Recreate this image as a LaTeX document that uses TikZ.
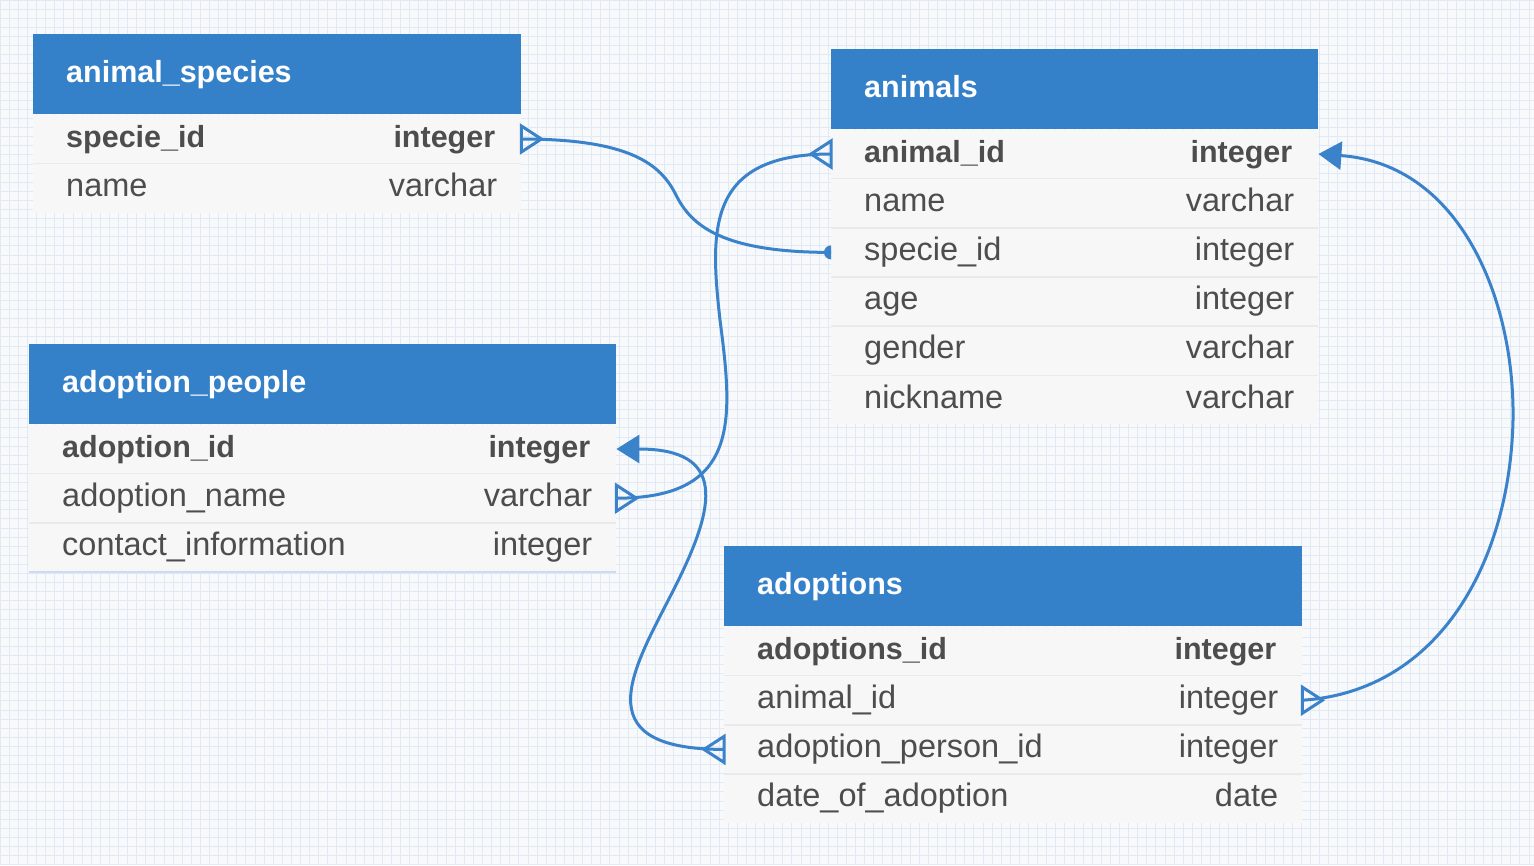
\documentclass[tikz,border=0pt]{standalone}
\usepackage{fontspec}
\setmainfont{Liberation Sans}
\usepackage{tikz}
\usepackage{xcolor}
\usetikzlibrary{positioning, arrows.meta}
\definecolor{headblue}{HTML}{3481CA}
\definecolor{linkblue}{HTML}{3A82C9}
\definecolor{rowgray}{HTML}{F7F7F7}
\definecolor{sepgray}{HTML}{EAEAEA}
\definecolor{txtgray}{HTML}{4D4D4D}
\definecolor{paper}{HTML}{F8F9FB}
\definecolor{gridblue}{HTML}{E2E9F6}
\definecolor{edgeblue}{HTML}{CCDCF0}
\tikzstyle{head}=[rectangle, fill=headblue, minimum height=80pt, inner sep=0, anchor=north west]
\tikzstyle{fieldrow}=[rectangle, fill=rowgray, minimum height=48.8pt, inner sep=0, anchor=north west]
\tikzstyle{title}=[text=white, font=\fontsize{30.5}{34}\selectfont\bfseries, inner sep=0, text height=22pt, text depth=6pt]
\tikzstyle{key}=[text=txtgray, font=\fontsize{30.5}{34}\selectfont\bfseries, inner sep=0, text height=22pt, text depth=6pt]
\tikzstyle{fld}=[text=txtgray, font=\fontsize{32.5}{36}\selectfont, inner sep=0, text height=22pt, text depth=6pt]
\tikzstyle{rowline}=[draw=sepgray, line width=1.5pt]
\tikzstyle{tableend}=[draw=edgeblue, line width=1.5pt]
\tikzstyle{link}=[draw=linkblue, line width=3pt]
\tikzstyle{onetip}=[-{Triangle[length=23pt,width=28pt]}]
% crow's foot on the right / left side of a row
\newcommand{\manyright}[1]{\draw[link] ([yshift=13pt]#1) -- ++(20,13) -- ++(-20,13) -- cycle;}
\newcommand{\manyleft}[1]{\draw[link] ([yshift=13pt]#1) -- ++(-20,13) -- ++(20,13) -- cycle;}

\begin{document}
\begin{tikzpicture}[x=1pt, y=-1pt]
\useasboundingbox (0,0) rectangle (1534,865);
\fill[paper] (0,0) rectangle (1534,865);
\draw[gridblue, line width=0.6pt, step=9.1pt] (0pt,-865pt) grid (1534pt,0pt);

%%%%%%%%%%%%%%%%%%%%%%%%%%% animal_species
\node[head, minimum width=488pt] (spec) at (33,34) {};
\node[title, right=33pt of spec.west] (spect) {animal\_species};
\node[fieldrow, minimum width=488pt] (spec1) at (spec.south west) {};
\node[key, right=33pt of spec1.west] (spec1n) {specie\_id};
\node[key, left=26pt of spec1.east] (spec1t) {integer};
\node[fieldrow, minimum width=488pt] (spec2) at (spec1.south west) {};
\node[fld, right=33pt of spec2.west] (spec2n) {name};
\node[fld, left=24pt of spec2.east] (spec2t) {varchar};
\draw[rowline] (spec1.south west) -- (spec1.south east);

%%%%%%%%%%%%%%%%%%%%%%%%%%% animals
\node[head, minimum width=487pt] (anim) at (831,49) {};
\node[title, right=33pt of anim.west] (animt) {animals};
\node[fieldrow, minimum width=487pt] (anim1) at (anim.south west) {};
\node[key, right=33pt of anim1.west] (anim1n) {animal\_id};
\node[key, left=26pt of anim1.east] (anim1t) {integer};
\node[fieldrow, minimum width=487pt] (anim2) at (anim1.south west) {};
\node[fld, right=33pt of anim2.west] (anim2n) {name};
\node[fld, left=24pt of anim2.east] (anim2t) {varchar};
\node[fieldrow, minimum width=487pt] (anim3) at (anim2.south west) {};
\node[fld, right=33pt of anim3.west] (anim3n) {specie\_id};
\node[fld, left=24pt of anim3.east] (anim3t) {integer};
\node[fieldrow, minimum width=487pt] (anim4) at (anim3.south west) {};
\node[fld, right=33pt of anim4.west] (anim4n) {age};
\node[fld, left=24pt of anim4.east] (anim4t) {integer};
\node[fieldrow, minimum width=487pt] (anim5) at (anim4.south west) {};
\node[fld, right=33pt of anim5.west] (anim5n) {gender};
\node[fld, left=24pt of anim5.east] (anim5t) {varchar};
\node[fieldrow, minimum width=487pt] (anim6) at (anim5.south west) {};
\node[fld, right=33pt of anim6.west] (anim6n) {nickname};
\node[fld, left=24pt of anim6.east] (anim6t) {varchar};
\draw[rowline] (anim1.south west) -- (anim1.south east);
\draw[rowline] (anim2.south west) -- (anim2.south east);
\draw[rowline] (anim3.south west) -- (anim3.south east);
\draw[rowline] (anim4.south west) -- (anim4.south east);
\draw[rowline] (anim5.south west) -- (anim5.south east);

%%%%%%%%%%%%%%%%%%%%%%%%%%% adoption_people
\node[head, minimum width=587pt] (peop) at (29,344) {};
\node[title, right=33pt of peop.west] (peopt) {adoption\_people};
\node[fieldrow, minimum width=587pt] (peop1) at (peop.south west) {};
\node[key, right=33pt of peop1.west] (peop1n) {adoption\_id};
\node[key, left=26pt of peop1.east] (peop1t) {integer};
\node[fieldrow, minimum width=587pt] (peop2) at (peop1.south west) {};
\node[fld, right=33pt of peop2.west] (peop2n) {adoption\_name};
\node[fld, left=24pt of peop2.east] (peop2t) {varchar};
\node[fieldrow, minimum width=587pt] (peop3) at (peop2.south west) {};
\node[fld, right=33pt of peop3.west] (peop3n) {contact\_information};
\node[fld, left=24pt of peop3.east] (peop3t) {integer};
\draw[rowline] (peop1.south west) -- (peop1.south east);
\draw[rowline] (peop2.south west) -- (peop2.south east);
\draw[tableend] (peop3.south west) -- (peop3.south east);

%%%%%%%%%%%%%%%%%%%%%%%%%%% adoptions
\node[head, minimum width=578pt] (adop) at (724,546) {};
\node[title, right=33pt of adop.west] (adopt) {adoptions};
\node[fieldrow, minimum width=578pt] (adop1) at (adop.south west) {};
\node[key, right=33pt of adop1.west] (adop1n) {adoptions\_id};
\node[key, left=26pt of adop1.east] (adop1t) {integer};
\node[fieldrow, minimum width=578pt] (adop2) at (adop1.south west) {};
\node[fld, right=33pt of adop2.west] (adop2n) {animal\_id};
\node[fld, left=24pt of adop2.east] (adop2t) {integer};
\node[fieldrow, minimum width=578pt] (adop3) at (adop2.south west) {};
\node[fld, right=33pt of adop3.west] (adop3n) {adoption\_person\_id};
\node[fld, left=24pt of adop3.east] (adop3t) {integer};
\node[fieldrow, minimum width=578pt] (adop4) at (adop3.south west) {};
\node[fld, right=33pt of adop4.west] (adop4n) {date\_of\_adoption};
\node[fld, left=24pt of adop4.east] (adop4t) {date};
\draw[rowline] (adop1.south west) -- (adop1.south east);
\draw[rowline] (adop2.south west) -- (adop2.south east);
\draw[rowline] (adop3.south west) -- (adop3.south east);

%%%%%%%%%%%%%%%%%%%%%%%%%%% relations
\coordinate (bend0) at (676,195);
\coordinate (bend1) at (720,320);
\coordinate (bend2) at (676,585);
\coordinate (bend3) at (1513,420);

\draw[link] (spec1.east) .. controls +(110,0) and +(-15,-30) .. (bend0)
  .. controls +(15,30) and +(-110,0) .. (anim3.west);
\manyright{spec1.east}
\fill[linkblue] ([yshift=7pt]anim3.west) arc[start angle=270, end angle=90, radius=7] -- cycle;

\draw[link] (anim1.west) .. controls +(-125,0) and +(-10,-90) .. (bend1)
  .. controls +(13,100) and +(124,0) .. (peop2.east);
\manyleft{anim1.west}
\manyright{peop2.east}

\draw[link, onetip] (adop3.west) .. controls +(-145,0) and +(-40,80) .. (bend2)
  .. controls +(40,-80) and +(110,0) .. (peop1.east);
\manyleft{adop3.west}

\draw[link, onetip] (adop2.east) .. controls +(138,-9) and +(-3,140) .. (bend3)
  .. controls +(2,-120) and +(142,10) .. (anim1.east);
\manyright{adop2.east}

\end{tikzpicture}
\end{document}
